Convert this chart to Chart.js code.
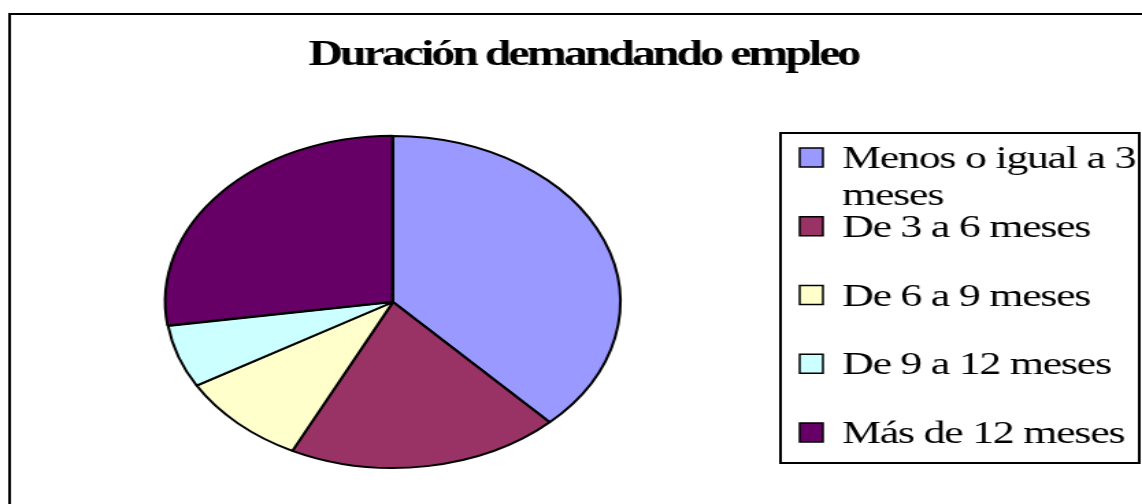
<!DOCTYPE html>
<html>
<head>
<meta charset="utf-8">
<script src="https://cdn.jsdelivr.net/npm/chart.js@4.4.1/dist/chart.umd.min.js"></script>
<style>
  html, body { margin: 0; padding: 0; background: #fff; overflow: hidden; }
</style>
</head>
<body>
<!-- the picture is stretched sideways, so draw narrow and widen with css -->
<canvas id="chart" width="834" height="504" style="display:block;width:1142px;height:504px"></canvas>
<script>
const chartTitle = 'Duración demandando empleo';
const labels = ['Menos o igual a 3 meses', 'De 3 a 6 meses', 'De 6 a 9 meses', 'De 9 a 12 meses', 'Más de 12 meses'];
const shares = [37.9, 19.4, 9.3, 6.1, 27.3];
const colors = ['#9999FF', '#993366', '#FFFFCC', '#CCFFFF', '#660066'];

const serif = "'Liberation Serif', 'Times New Roman', serif";

// frame, title and boxed legend
const decor = {
  id: 'decor',
  afterDraw(chart) {
    const ctx = chart.ctx;
    ctx.save();

    // outer frame (runs off the right and bottom)
    ctx.strokeStyle = '#000';
    ctx.lineWidth = 2;
    ctx.strokeRect(7, 14, 2000, 2000);

    // title
    ctx.fillStyle = '#000';
    ctx.font = 'bold 35px ' + serif;
    ctx.letterSpacing = '-2.2px';
    ctx.textAlign = 'center';
    ctx.textBaseline = 'alphabetic';
    ctx.fillText(chartTitle, 426, 65);

    // legend box
    const box = { left: 570, top: 133, right: 832, bottom: 463 };
    ctx.lineWidth = 2;
    ctx.strokeRect(box.left, box.top, box.right - box.left, box.bottom - box.top);

    ctx.font = '32px ' + serif;
    ctx.letterSpacing = '-0.9px';
    ctx.textAlign = 'left';
    const textX = 615;
    const maxW = box.right - textX - 2;
    const bg = chart.data.datasets[0].backgroundColor;
    chart.data.labels.forEach((lab, i) => {
      const base = 168 + i * 68.75;
      ctx.fillStyle = bg[i];
      ctx.fillRect(584, base - 20, 17, 19);
      ctx.lineWidth = 1.5;
      ctx.strokeStyle = '#000';
      ctx.strokeRect(584, base - 20, 17, 19);

      // simple word wrap
      const words = lab.split(' ');
      const lines = [];
      let cur = '';
      words.forEach(w => {
        const t = cur ? cur + ' ' + w : w;
        if (cur && ctx.measureText(t).width > maxW) { lines.push(cur); cur = w; }
        else cur = t;
      });
      lines.push(cur);
      ctx.fillStyle = '#000';
      lines.forEach((ln, k) => ctx.fillText(ln, textX, base + k * 37));
    });

    ctx.restore();
  }
};

new Chart(document.getElementById('chart'), {
  type: 'pie',
  data: {
    labels: labels,
    datasets: [{
      data: shares,
      backgroundColor: colors,
      borderColor: '#000',
      borderWidth: 2,
      offset: [0, 0, 0, 0, 2]
    }]
  },
  options: {
    responsive: false,
    animation: false,
    devicePixelRatio: 1,
    layout: {
      padding: { left: 119, right: 379, top: 134, bottom: 34 }
    },
    plugins: {
      legend: { display: false },
      tooltip: { enabled: false }
    }
  },
  plugins: [decor]
});
</script>
</body>
</html>
